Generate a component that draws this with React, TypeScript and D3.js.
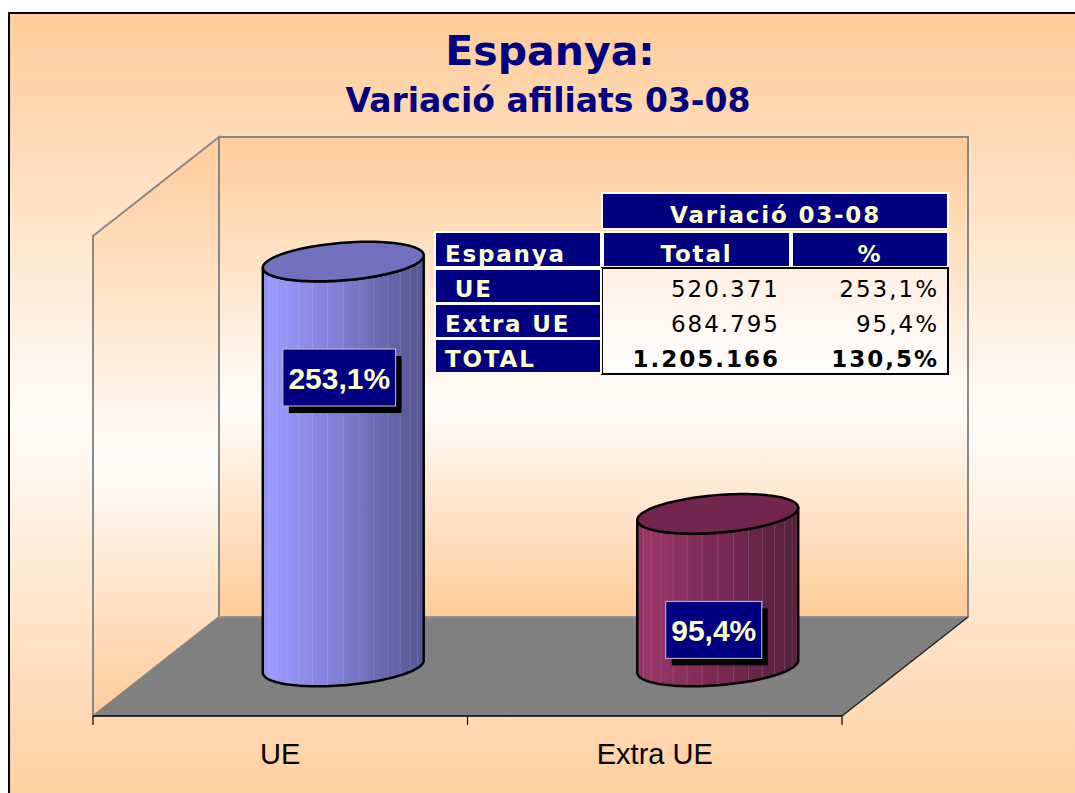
import React from 'react';
import * as d3 from 'd3';

// ---------- data ----------
const categories = ['UE', 'Extra UE'];
const percentValues = [253.1, 95.4];
const percentLabels = ['253,1%', '95,4%'];
const axisDomain = [0, 300];

const tableTitle = 'Variació 03-08';
const tableCorner = 'Espanya';
const tableColumns = ['Total', '%'];
const tableRowLabels = [' UE', 'Extra UE', 'TOTAL'];
const tableTotals = ['520.371', '684.795', '1.205.166'];
const tablePercents = ['253,1%', '95,4%', '130,5%'];

const chartTitle = 'Espanya:';
const chartSubtitle = 'Variació afiliats 03-08';

// ---------- layout ----------
const W = 1075;
const H = 793;
const FRONT = { x0: 93, x1: 842, yTop: 236, yBase: 716 };
const DEPTH = { dx: 126, dy: -99 };
const NAVY = '#000080';

const xScale = d3.scaleBand<string>().domain(categories).range([FRONT.x0, FRONT.x1]);
const yScale = d3.scaleLinear().domain(axisDomain).range([FRONT.yBase, FRONT.yTop]);

const proj = (x: number, y: number, z: number): [number, number] => [x + z * DEPTH.dx, y + z * DEPTH.dy];

const barStyles = [
  { stops: [['0%', '#8A8AEE'], ['5%', '#9A9AFF'], ['45%', '#8080D6'], ['100%', '#55558F']], top: '#7171C0' },
  { stops: [['0%', '#8A2E5E'], ['5%', '#9A3668'], ['45%', '#7C2A57'], ['100%', '#55203E']], top: '#72264F' },
];

let measureCtx: CanvasRenderingContext2D | null = null;
function measure(text: string, font: string): number {
  if (!measureCtx) measureCtx = document.createElement('canvas').getContext('2d');
  if (!measureCtx) return text.length * 16;
  measureCtx.font = font;
  return measureCtx.measureText(text).width;
}

function Cylinder({ cat, value, label, idx }: { cat: string; value: number; label: string; idx: number }) {
  const bw = xScale.bandwidth();
  const cxFront = (xScale(cat) as number) + bw / 2;
  const r = bw * 0.204;
  const rz = 0.2;
  const ex = rz * DEPTH.dx;
  const ey = rz * DEPTH.dy;
  const [bx, by] = proj(cxFront, FRONT.yBase, 0.5);
  const [tx, ty] = proj(cxFront, yScale(value), 0.5);
  const pt = (cx: number, cy: number, t: number): [number, number] => [
    cx + r * Math.cos(t) + ex * Math.sin(t),
    cy + ey * Math.sin(t),
  ];
  const t0 = Math.atan2(ex, r);
  const n = 60;
  const front: number[] = d3.range(n + 1).map((i) => t0 + Math.PI + (i / n) * Math.PI);
  const bottomArc = front.map((t) => pt(bx, by, t));
  const topArc = front.slice().reverse().map((t) => pt(tx, ty, t));
  const line = d3.line();
  const bodyPath = line([...bottomArc, ...topArc]) + 'Z';
  const full = d3.range(121).map((i) => pt(tx, ty, (i / 120) * Math.PI * 2));
  const topPath = line(full) + 'Z';
  const halfW = Math.sqrt(r * r + ex * ex);
  const gid = `bodyGrad${idx}`;
  const facets = d3.range(1, 16).map((k) => t0 + Math.PI + (k / 16) * Math.PI);

  const font = '700 30px "Liberation Sans", Arial, sans-serif';
  const tw = measure(label, font);
  const boxW = tw + 11;
  const boxH = 57;
  const boxCx = bx - 4;
  const boxCy = ty + 116;
  return (
    <g>
      <defs>
        <linearGradient id={gid} gradientUnits="userSpaceOnUse" x1={bx - halfW} x2={bx + halfW} y1={0} y2={0}>
          {barStyles[idx].stops.map(([o, c]) => (
            <stop key={o} offset={o} stopColor={c} />
          ))}
        </linearGradient>
      </defs>
      <path d={bodyPath} fill={`url(#${gid})`} />
      {facets.map((t, i) => {
        const [x1, y1] = pt(bx, by, t);
        const [x2, y2] = pt(tx, ty, t);
        return <line key={i} x1={x1} y1={y1} x2={x2} y2={y2} stroke="#FFFFFF" strokeOpacity={0.13} strokeWidth={1} />;
      })}
      <path d={bodyPath} fill="none" stroke="#000" strokeWidth={2.5} strokeLinejoin="round" />
      <path d={topPath} fill={barStyles[idx].top} stroke="#000" strokeWidth={2.5} strokeLinejoin="round" />
      <rect x={boxCx - boxW / 2 + 6} y={boxCy - boxH / 2 + 7} width={boxW} height={boxH} fill="#000" />
      <rect x={boxCx - boxW / 2} y={boxCy - boxH / 2} width={boxW} height={boxH} fill={NAVY} stroke="#C8C8C8" strokeWidth={1} />
      <text x={boxCx} y={boxCy + 11} textAnchor="middle" fill="#FFFFCC"
        style={{ font }}>{label}</text>
    </g>
  );
}

function Table() {
  const colX = [435, 603, 792];
  const colW = [166, 187, 156];
  const headY = 193;
  const headH = 36;
  const row2Y = 232;
  const row2H = 35;
  const rowY0 = 268;
  const rowH = 35;
  const tableFont = '"DejaVu Sans", Verdana, sans-serif';
  const hdrStyle = { fontFamily: tableFont, fontWeight: 700, fontSize: 23, letterSpacing: 1.8 } as React.CSSProperties;
  const dataStyle = { fontFamily: tableFont, fontWeight: 400, fontSize: 23, letterSpacing: 2 } as React.CSSProperties;
  const dataX0 = colX[1] - 1;
  const dataX1 = colX[2] + colW[2];
  return (
    <g>
      <defs>
        <linearGradient id="tblGrad" x1="0" x2="0" y1="0" y2="1">
          <stop offset="0%" stopColor="#FFEFE2" />
          <stop offset="100%" stopColor="#FFFFFF" />
        </linearGradient>
      </defs>
      <rect x={colX[1] - 1} y={headY} width={dataX1 - colX[1] + 1} height={headH} fill={NAVY} stroke="#FFFFFF" strokeWidth={2} />
      <text x={(colX[1] + dataX1) / 2} y={headY + 30} textAnchor="middle" fill="#FFFFCC" style={hdrStyle}>{tableTitle}</text>
      <rect x={colX[0]} y={row2Y} width={colW[0]} height={row2H} fill={NAVY} stroke="#FFFFFF" strokeWidth={2} />
      <rect x={colX[1]} y={row2Y} width={colW[1]} height={row2H} fill={NAVY} stroke="#FFFFFF" strokeWidth={2} />
      <rect x={colX[2]} y={row2Y} width={colW[2]} height={row2H} fill={NAVY} stroke="#FFFFFF" strokeWidth={2} />
      <text x={colX[0] + 10} y={row2Y + 30} fill="#FFFFCC" style={hdrStyle}>{tableCorner}</text>
      {tableColumns.map((c, i) => (
        <text key={c} x={colX[i + 1] + colW[i + 1] / 2} y={row2Y + 30} textAnchor="middle" fill="#FFFFCC" style={hdrStyle}>{c}</text>
      ))}
      <rect x={dataX0} y={rowY0} width={dataX1 - dataX0} height={rowH * 3 + 1} fill="url(#tblGrad)" stroke="#000" strokeWidth={2} />
      {tableRowLabels.map((lab, i) => {
        const y = rowY0 + i * rowH;
        const bold = i === tableRowLabels.length - 1;
        const ds = bold ? { ...dataStyle, fontWeight: 700 } : dataStyle;
        return (
          <g key={lab}>
            <rect x={colX[0]} y={y + 1} width={colW[0]} height={rowH - 1} fill={NAVY} stroke="#FFFFFF" strokeWidth={2} />
            <text x={colX[0] + 10} y={y + 29} fill="#FFFFCC" style={{ ...hdrStyle, whiteSpace: 'pre' }}>{lab}</text>
            <text x={colX[1] + colW[1] - 10} y={y + 29} textAnchor="end" fill="#000" style={ds}>{tableTotals[i]}</text>
            <text x={colX[2] + colW[2] - 9} y={y + 29} textAnchor="end" fill="#000" style={ds}>{tablePercents[i]}</text>
          </g>
        );
      })}
    </g>
  );
}

export default function App() {
  const bl = proj(FRONT.x0, FRONT.yBase, 1);
  const tl = proj(FRONT.x0, FRONT.yTop, 1);
  const br = proj(FRONT.x1, FRONT.yBase, 1);
  const tr = proj(FRONT.x1, FRONT.yTop, 1);
  const floorPts: [number, number][] = [
    [FRONT.x0, FRONT.yBase],
    [FRONT.x1, FRONT.yBase],
    br,
    bl,
  ];
  const leftWall: [number, number][] = [
    [FRONT.x0, FRONT.yTop],
    tl,
    bl,
    [FRONT.x0, FRONT.yBase],
  ];
  const poly = (p: [number, number][]) => (d3.line()(p) as string) + 'Z';
  const tickXs = [...categories.map((c) => xScale(c) as number), FRONT.x1];

  return (
    <svg width={W} height={H} style={{ position: 'absolute', left: 0, top: 0, display: 'block' }}>
      <defs>
        <linearGradient id="bgGrad" x1="0" x2="0" y1="0" y2="1">
          <stop offset="0%" stopColor="#FFCC99" />
          <stop offset="50%" stopColor="#FFFCF8" />
          <stop offset="100%" stopColor="#FFCC99" />
        </linearGradient>
        <linearGradient id="wallGrad" x1="0" x2="0" y1="0" y2="1">
          <stop offset="0%" stopColor="#FFCC99" />
          <stop offset="56%" stopColor="#FFFDFA" />
          <stop offset="100%" stopColor="#FFCC99" />
        </linearGradient>
      </defs>
      <rect x={0} y={0} width={W} height={H} fill="#FFFFFF" />
      <rect x={9} y={13} width={W + 20} height={H + 20} fill="url(#bgGrad)" stroke="#000" strokeWidth={2} />

      <text x={550} y={65} textAnchor="middle" fill={NAVY}
        style={{ fontFamily: '"DejaVu Sans", Verdana, sans-serif', fontWeight: 700, fontSize: 41 }}>{chartTitle}</text>
      <text x={548} y={112} textAnchor="middle" fill={NAVY}
        style={{ fontFamily: '"DejaVu Sans", Verdana, sans-serif', fontWeight: 700, fontSize: 33 }}>{chartSubtitle}</text>

      <rect x={tl[0]} y={tr[1]} width={tr[0] - tl[0]} height={br[1] - tr[1]} fill="url(#wallGrad)" stroke="#888" strokeWidth={2} />
      <path d={poly(leftWall)} fill="url(#wallGrad)" stroke="#888" strokeWidth={2} />
      <path d={poly(floorPts)} fill="#808080" />
      <line x1={tl[0]} y1={bl[1]} x2={br[0]} y2={br[1]} stroke="#999" strokeWidth={1.5} />
      <line x1={FRONT.x1} y1={FRONT.yBase} x2={br[0]} y2={br[1]} stroke="#222" strokeWidth={1.5} />
      <line x1={FRONT.x0} y1={FRONT.yBase} x2={FRONT.x1} y2={FRONT.yBase} stroke="#000" strokeWidth={1.5} />
      {tickXs.map((x, i) => (
        <line key={i} x1={x} y1={FRONT.yBase} x2={x} y2={FRONT.yBase + 9} stroke="#000" strokeWidth={1.2} />
      ))}

      {categories.map((c) => (
        <text key={c} x={(xScale(c) as number) + xScale.bandwidth() / 2} y={764} textAnchor="middle" fill="#000"
          style={{ fontFamily: '"Liberation Sans", Arial, sans-serif', fontSize: 29 }}>{c}</text>
      ))}

      {categories.map((c, i) => (
        <Cylinder key={c} cat={c} value={percentValues[i]} label={percentLabels[i]} idx={i} />
      ))}

      <Table />
    </svg>
  );
}
